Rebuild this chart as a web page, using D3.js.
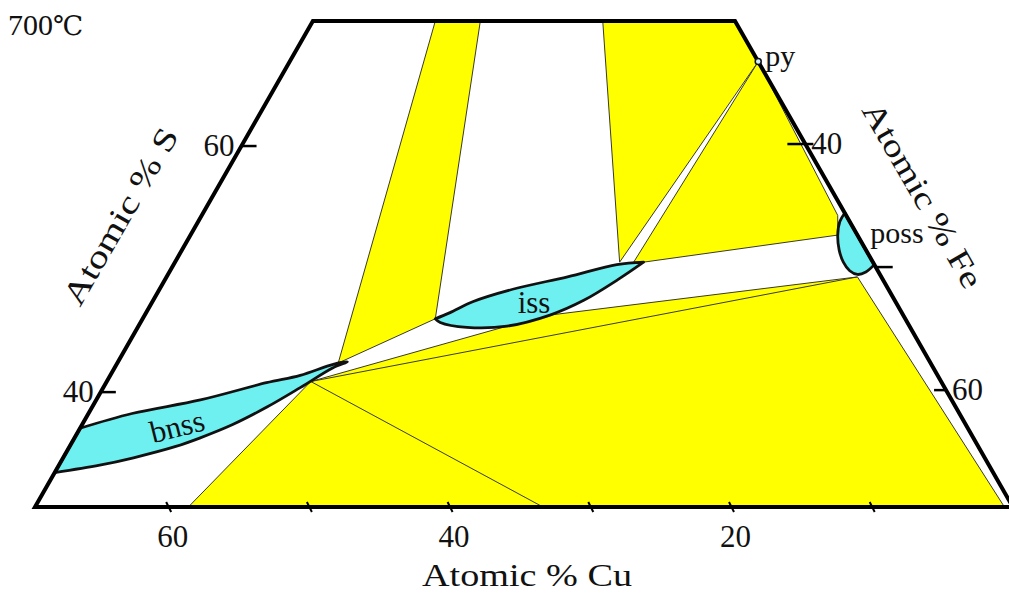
<!DOCTYPE html>
<html>
<head>
<meta charset="utf-8">
<script src="https://cdn.jsdelivr.net/npm/d3@7"></script>
<style>
  html, body { margin: 0; padding: 0; background: #fff; }
  svg { display: block; }
  text { font-family: "Liberation Serif", "Times New Roman", serif; fill: #111; }
</style>
</head>
<body>
<svg id="chart" width="1009" height="595"></svg>
<script>
// ---- data: compositions as [Cu at.%, S at.%]  (Fe = 100 - Cu - S) ----
const sRange = [30.5, 70];            // S window of the diagram
const bnss = [[63.1,36.9],[58.8,38.1],[53.4,39.2],[48.0,40.6],[45.3,41.2],[42.5,42.1],[41.4,42.3],
              [42.7,41.8],[45.8,40.2],[49.0,38.6],[52.1,37.2],[55.0,36.1],[57.1,35.4],[60.5,34.5],[63.2,33.9],[66.7,33.3]];
const issUpper = [[33.4,45.8],[32.1,46.3],[30.0,47.2],[26.3,48.3],[22.3,49.2],[18.3,50.2],[16.3,50.4]];
const issLower = [[16.3,50.4],[18.8,49.0],[22.1,47.3],[25.1,46.1],[28.6,45.2],[31.5,45.1],[33.2,45.5],[33.4,45.8]];
const poss = [[0,54.4],[0.7,53.7],[1.4,52.6],[1.9,51.4],[2.1,50.4],[2.0,49.7],[1.6,49.4],[0.9,49.6],[0,50.2]];
const py   = [0, 66.7];

const regionA = [[21.3,70],[18.1,70],[33.4,45.8],[42.1,42.2]];
const regionB = [[9.4,70],[0,70],[0,66.7],[18.0,50.4]];
const regionC = [[0,66.7],[0.6,54.2],[1.4,52.6],[16.3,50.4],[17.0,50.4]];
const regionD = [[58.6,30.5],[44.8,40.7],[28.6,45.2],[25.1,46.1],[1.7,49.2],[0.6,30.5]];

const tieLines = [
  [[44.8,40.7],[1.7,49.2]],
  [[44.8,40.7],[33.4,30.5]]
];

const sTicks  = [40, 60];
const sLabels = ["40", "60"];
const feTicks  = [40, 50, 60];
const feLabels = ["40", "", "60"];
const cuTicks  = [60, 50, 40, 30, 20, 10];
const cuLabels = ["60", "", "40", "", "20", ""];

// ---- scales (ternary projection: horizontal coordinate u = Fe + S/2) ----
const xScale = d3.scaleLinear().domain([15.25, 84.75]).range([35, 1012.9]);
const yScale = d3.scaleLinear().domain(sRange).range([507, 21]);
function P(d) {               // d = [Cu, S]
  const S = d[1], Fe = 100 - d[0] - S;
  return [xScale(Fe + S / 2), yScale(S)];
}

const svg = d3.select("#chart");
const line = d3.line().x(d => P(d)[0]).y(d => P(d)[1]);

// yellow regions
const regions = [regionA, regionB, regionC, regionD];
svg.append("g").selectAll("path").data(regions).join("path")
  .attr("d", d => line(d) + "Z")
  .attr("fill", "#ffff00")
  .attr("stroke", "#3a3a2a").attr("stroke-width", 1).attr("stroke-linejoin", "round");

// tie lines
svg.append("g").selectAll("path").data(tieLines).join("path")
  .attr("d", d => line(d))
  .attr("fill", "none").attr("stroke", "#3a3a3a").attr("stroke-width", 1);

// phase fields
const smoothOpen = d3.line().x(d => P(d)[0]).y(d => P(d)[1]).curve(d3.curveCatmullRom.alpha(0.5));
const phaseG = svg.append("g").attr("fill", "#6ef0f0").attr("stroke", "#111").attr("stroke-width", 2.8)
  .attr("stroke-linejoin", "round");
phaseG.append("path").attr("d", smoothOpen(bnss) + "Z");
phaseG.append("path").attr("d", smoothOpen(issUpper) + smoothOpen(issLower).replace(/^M[^CL]*/, "") + "Z");
phaseG.append("path").attr("d", smoothOpen(poss) + "Z");

// frame
const frame = [[100 - sRange[0], sRange[0]], [100 - sRange[1], sRange[1]], [0, sRange[1]], [0, sRange[0]]];
svg.append("path").attr("d", line(frame) + "Z")
  .attr("fill", "none").attr("stroke", "#000").attr("stroke-width", 4).attr("stroke-linejoin", "miter");

// ticks: left edge (S), right edge (Fe), bottom (Cu)
const tg = svg.append("g").attr("stroke", "#000").attr("stroke-width", 2.5);
sTicks.forEach(s => {
  const [x, y] = P([100 - s, s]);
  tg.append("line").attr("x1", x).attr("y1", y + 2).attr("x2", x + 14).attr("y2", y + 2);
});
const feOff = [[-18, 8], [0, 17], [-12, 0]];
feTicks.forEach((fe, i) => {
  const [x, y] = P([0, 100 - fe]);
  tg.append("line").attr("x1", x + feOff[i][0]).attr("y1", y).attr("x2", x + feOff[i][1]).attr("y2", y);
});
cuTicks.forEach(cu => {
  const [x, y] = P([cu, sRange[0]]);
  tg.append("line").attr("x1", x - 2.5).attr("y1", y - 5).attr("x2", x + 2.5).attr("y2", y + 5).attr("stroke-width", 2);
});

// tick labels
const fs = 31;
sTicks.forEach((s, i) => {
  const [x, y] = P([100 - s, s]);
  svg.append("text").attr("x", x - 8).attr("y", y + 12).attr("text-anchor", "end")
    .attr("font-size", fs).text(sLabels[i]);
});
feTicks.forEach((fe, i) => {
  const [x, y] = P([0, 100 - fe]);
  svg.append("text").attr("x", x + 6).attr("y", y + 10).attr("text-anchor", "start")
    .attr("font-size", fs).text(feLabels[i]);
});
cuTicks.forEach((cu, i) => {
  const [x, y] = P([cu, sRange[0]]);
  svg.append("text").attr("x", x + 4).attr("y", y + 40).attr("text-anchor", "middle")
    .attr("font-size", fs).text(cuLabels[i]);
});

// py marker
const pyP = P(py);
svg.append("circle").attr("cx", pyP[0]).attr("cy", pyP[1]).attr("r", 3)
  .attr("fill", "#cfefff").attr("stroke", "#111").attr("stroke-width", 1.5);

// phase labels
svg.append("text").attr("x", pyP[0] + 7).attr("y", pyP[1] + 4).attr("font-size", 30).text("py");
const possLab = P([0, 50.2]);
svg.append("text").attr("x", possLab[0] - 4).attr("y", possLab[1] - 22).attr("font-size", 30).text("poss");
svg.append("text").attr("x", 534).attr("y", 313).attr("text-anchor", "middle").attr("font-size", 31).text("iss");
svg.append("text").attr("transform", "translate(177,426) rotate(-14)").attr("text-anchor", "middle")
  .attr("dy", "0.35em").attr("font-size", 31).text("bnss");

// axis titles
svg.append("text").attr("transform", "translate(120,216) rotate(-60)").attr("text-anchor", "middle")
  .attr("dy", "0.35em").attr("font-size", 32).attr("textLength", 199).attr("lengthAdjust", "spacingAndGlyphs").text("Atomic % S");
svg.append("text").attr("transform", "translate(923,195) rotate(60)").attr("text-anchor", "middle")
  .attr("dy", "0.35em").attr("font-size", 32).attr("textLength", 209).attr("lengthAdjust", "spacingAndGlyphs").text("Atomic % Fe");
svg.append("text").attr("x", 527).attr("y", 586).attr("text-anchor", "middle")
  .attr("font-size", 32).attr("textLength", 210).attr("lengthAdjust", "spacingAndGlyphs").text("Atomic % Cu");

// temperature
const tt = svg.append("text").attr("x", 8).attr("y", 35).attr("font-size", 30);
tt.append("tspan").attr("font-family", "'Liberation Serif', serif").text("700");
tt.append("tspan").attr("font-family", "'DejaVu Serif', 'Noto Sans CJK SC', serif").attr("font-size", 27).text("℃");
</script>
</body>
</html>
